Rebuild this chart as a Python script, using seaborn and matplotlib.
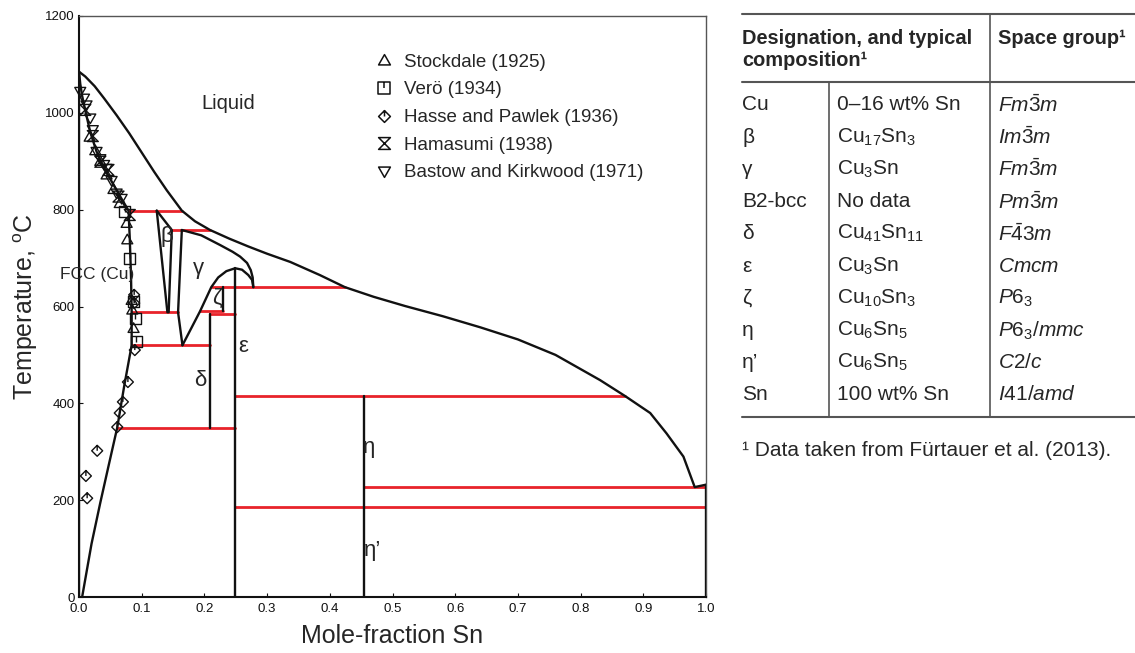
import numpy as np
import pandas as pd
import matplotlib
matplotlib.use("Agg")
import matplotlib.pyplot as plt
import seaborn as sns
from matplotlib.path import Path
from matplotlib.lines import Line2D

sns.set_theme(style="white")
plt.rcParams["font.family"] = ["Liberation Sans", "DejaVu Sans"]
plt.rcParams["mathtext.fontset"] = "custom"
plt.rcParams["mathtext.rm"] = "Liberation Sans"
plt.rcParams["mathtext.it"] = "Liberation Sans:italic"
plt.rcParams["mathtext.bf"] = "Liberation Sans:bold"

# ---- phase boundaries (mole fraction Sn, temperature in °C) ----
liquidus_x = [0.000, 0.010, 0.025, 0.040, 0.060, 0.080, 0.100, 0.120, 0.140, 0.164,
              0.185, 0.209, 0.240, 0.270, 0.300, 0.337, 0.384, 0.424, 0.470, 0.520,
              0.580, 0.640, 0.700, 0.760, 0.831, 0.871, 0.911, 0.937, 0.964, 0.982, 1.000]
liquidus_t = [1085, 1075, 1055, 1030, 995, 958, 918, 878, 840, 798,
              776, 758, 740, 724, 709, 692, 665, 640, 620, 601,
              580, 557, 532, 500, 448, 415, 380, 338, 290, 227, 232]

cu_boundary_x = [0.000, 0.002, 0.005, 0.010, 0.018, 0.028, 0.040, 0.060, 0.079,
                 0.081, 0.083, 0.084, 0.084, 0.072, 0.061, 0.047, 0.034, 0.020, 0.005]
cu_boundary_t = [1085, 1060, 1035, 1005, 960, 920, 886, 840, 798,
                 740, 660, 588, 520, 435, 350, 270, 195, 110, 0]

beta_left_x = [0.124, 0.141]
beta_left_t = [798, 588]
beta_right_x = [0.124, 0.148, 0.143]
beta_right_t = [798, 758, 588]

gamma_left_x = [0.164, 0.158, 0.165]
gamma_left_t = [758, 588, 520]
gamma_dome_x = [0.165, 0.175, 0.185, 0.193, 0.202, 0.211, 0.222, 0.235, 0.249,
                0.260, 0.270, 0.276, 0.278]
gamma_dome_t = [520, 545, 570, 590, 615, 640, 660, 673, 679, 676, 665, 655, 640]
gamma_solidus_x = [0.164, 0.195, 0.225, 0.245, 0.257, 0.268, 0.274, 0.277, 0.278]
gamma_solidus_t = [758, 747, 727, 713, 703, 690, 675, 660, 640]

# single-phase compounds drawn as vertical lines: (x, T low, T high)
compound_x = [0.000, 0.229, 0.209, 0.249, 0.455, 1.000]
compound_tlo = [0, 590, 350, 0, 0, 0]
compound_thi = [1085, 640, 584, 679, 415, 232]

# invariant reactions (isotherms): temperature, x start, x end
iso_t = [798, 758, 640, 590, 588, 584, 520, 415, 350, 227, 186]
iso_x0 = [0.079, 0.148, 0.212, 0.193, 0.084, 0.209, 0.084, 0.249, 0.061, 0.455, 0.249]
iso_x1 = [0.164, 0.209, 0.424, 0.229, 0.158, 0.249, 0.209, 0.871, 0.249, 1.000, 1.000]

# ---- experimental data ----
stockdale_x = [0.017, 0.026, 0.034, 0.044, 0.055, 0.065, 0.076, 0.077, 0.084, 0.085, 0.087]
stockdale_t = [950, 922, 900, 872, 842, 813, 772, 738, 613, 593, 555]
vero_x = [0.073, 0.081, 0.087, 0.090, 0.091]
vero_t = [796, 700, 610, 575, 527]
hasse_x = [0.088, 0.088, 0.089, 0.078, 0.070, 0.065, 0.061, 0.029, 0.011, 0.013]
hasse_t = [624, 607, 510, 444, 403, 380, 351, 302, 250, 204]
hamasumi_x = [0.010, 0.022, 0.034, 0.047, 0.063, 0.081]
hamasumi_t = [1006, 952, 899, 882, 827, 789]
bastow_x = [0.002, 0.008, 0.012, 0.018, 0.022, 0.028, 0.034, 0.040, 0.044, 0.052, 0.060, 0.068]
bastow_t = [1044, 1030, 1016, 989, 965, 920, 905, 893, 885, 860, 834, 823]

series_labels = ["Stockdale (1925)", "Verö (1934)", "Hasse and Pawlek (1936)",
                 "Hamasumi (1938)", "Bastow and Kirkwood (1971)"]

# ---- table contents ----
table_phase = ["Cu", "β", "γ", "B2-bcc", "δ", "ε", "ζ", "η", "η’", "Sn"]
table_comp = ["0–16 wt% Sn", r"Cu$_\mathrm{17}$Sn$_\mathrm{3}$", r"Cu$_\mathrm{3}$Sn",
              "No data", r"Cu$_\mathrm{41}$Sn$_\mathrm{11}$", r"Cu$_\mathrm{3}$Sn",
              r"Cu$_\mathrm{10}$Sn$_\mathrm{3}$", r"Cu$_\mathrm{6}$Sn$_\mathrm{5}$",
              r"Cu$_\mathrm{6}$Sn$_\mathrm{5}$", "100 wt% Sn"]
table_group = [r"$Fm\bar{3}m$", r"$Im\bar{3}m$", r"$Fm\bar{3}m$", r"$Pm\bar{3}m$",
               r"$F\bar{4}3m$", r"$Cmcm$", r"$P6_3$", r"$P6_3/mmc$", r"$C2/c$", r"$I41/amd$"]

# ---- marker shapes ----
M, L, C = Path.MOVETO, Path.LINETO, Path.CLOSEPOLY
tri_up = Path([(0, 1), (1, -0.75), (-1, -0.75), (0, 1)], [M, L, L, C])
square_tick = Path([(-1, -1), (1, -1), (1, 1), (-1, 1), (-1, -1), (0, 1), (0, 0)],
                   [M, L, L, L, C, M, L])
diamond_tick = Path([(0, 1), (1, 0), (0, -1), (-1, 0), (0, 1), (0, 1), (0, 0)],
                    [M, L, L, L, C, M, L])
hourglass = Path([(-1, 1), (1, 1), (-1, -1), (1, -1), (-1, 1)], [M, L, L, L, C])
tri_down = Path([(0, -1), (1, 0.75), (-1, 0.75), (0, -1)], [M, L, L, C])

fig = plt.figure(figsize=(11.35, 6.53), dpi=100)
ax = fig.add_axes([79 / 1135, 56 / 653, 627 / 1135, 581 / 653])

black = "#111111"
red = "#e8232a"

def boundary(xs, ts, **kw):
    df = pd.DataFrame({"x": xs, "T": ts})
    sns.lineplot(data=df, x="x", y="T", sort=False, estimator=None,
                 color=kw.get("color", black), lw=kw.get("lw", 1.7), ax=ax,
                 zorder=kw.get("zorder", 3))

for t, a, b in zip(iso_t, iso_x0, iso_x1):
    boundary([a, b], [t, t], color=red, lw=2.0, zorder=2)

boundary(liquidus_x, liquidus_t)
boundary(cu_boundary_x, cu_boundary_t)
boundary(beta_left_x, beta_left_t)
boundary(beta_right_x, beta_right_t)
boundary(gamma_left_x, gamma_left_t)
boundary(gamma_dome_x, gamma_dome_t)
boundary(gamma_solidus_x, gamma_solidus_t)
for x, lo, hi in zip(compound_x, compound_tlo, compound_thi):
    boundary([x, x], [lo, hi])

markers = [tri_up, square_tick, diamond_tick, hourglass, tri_down]
data = [(stockdale_x, stockdale_t), (vero_x, vero_t), (hasse_x, hasse_t),
        (hamasumi_x, hamasumi_t), (bastow_x, bastow_t)]
for (xs, ts), mk in zip(data, markers):
    ax.scatter(xs, ts, marker=mk, s=62, facecolors="none", edgecolors=black,
               linewidths=1.0, zorder=4, clip_on=False)

handles = [Line2D([], [], marker=mk, linestyle="none", markerfacecolor="none",
                  markeredgecolor=black, markeredgewidth=1.1, markersize=8.5)
           for mk in markers]
ax.legend(handles, series_labels, loc="upper left", bbox_to_anchor=(0.456, 0.948),
          frameon=False, fontsize=13.5, handletextpad=0.5, labelspacing=0.56,
          handlelength=1.2, borderaxespad=0)

# region labels
ax.text(0.238, 1020, "Liquid", fontsize=14.5, ha="center", va="center")
ax.text(-0.031, 667, "FCC (Cu)", fontsize=12.5, ha="left", va="center", clip_on=False)
ax.text(0.140, 745, "β", fontsize=16, ha="center", va="center")
ax.text(0.190, 679, "γ", fontsize=16, ha="center", va="center")
ax.text(0.220, 617, "ζ", fontsize=16, ha="center", va="center")
ax.text(0.262, 518, "ε", fontsize=16, ha="center", va="center")
ax.text(0.193, 448, "δ", fontsize=16, ha="center", va="center")
ax.text(0.462, 308, "η", fontsize=16, ha="center", va="center")
ax.text(0.468, 97, "η’", fontsize=16, ha="center", va="center")

ax.set_xlim(0, 1)
ax.set_ylim(0, 1200)
ax.set_xticks(np.arange(0, 1.01, 0.1))
ax.set_xticklabels([f"{v:.1f}" for v in np.arange(0, 1.01, 0.1)])
ax.set_yticks(np.arange(0, 1201, 200))
ax.tick_params(axis="both", direction="in", length=3, width=0.8, labelsize=9.5,
               colors=black)
ax.tick_params(axis="x", pad=4)
ax.tick_params(axis="y", pad=3)
ax.tick_params(bottom=True, left=True)
ax.set_xlabel("Mole-fraction Sn", fontsize=18, labelpad=7)
ax.set_ylabel(r"Temperature, $^\mathrm{o}$C", fontsize=18, labelpad=4)
for side in ["left", "bottom"]:
    ax.spines[side].set_color(black)
    ax.spines[side].set_linewidth(1.5)
for side in ["top", "right"]:
    ax.spines[side].set_color("#555555")
    ax.spines[side].set_linewidth(1.0)

# ---- table of phases ----
tab = fig.add_axes([0, 0, 1, 1])
tab.set_xlim(0, 1135)
tab.set_ylim(653, 0)
tab.axis("off")
gray = "#555555"
tab.plot([742, 1135], [14, 14], color=gray, lw=1.5)
tab.plot([742, 1135], [82, 82], color=gray, lw=1.5)
tab.plot([742, 1135], [417, 417], color=gray, lw=1.5)
tab.plot([990, 990], [14, 417], color=gray, lw=1.2)
tab.plot([829, 829], [82, 417], color=gray, lw=1.2)

tab.text(742, 38, "Designation, and typical", fontsize=14.4, fontweight="bold", va="center")
tab.text(742, 61, "composition¹", fontsize=14.4, fontweight="bold", va="center")
tab.text(998, 38, "Space group¹", fontsize=14.4, fontweight="bold", va="center")

row_y0, row_dy = 105, 32.2
for i, (p, c, g) in enumerate(zip(table_phase, table_comp, table_group)):
    y = row_y0 + i * row_dy
    tab.text(742, y, p, fontsize=15, va="center")
    tab.text(837, y, c, fontsize=15, va="center")
    tab.text(998, y, g, fontsize=15, va="center")

tab.text(742, 450, "¹ Data taken from Fürtauer et al. (2013).", fontsize=15, va="center")

fig.savefig("out.png", dpi=100)
